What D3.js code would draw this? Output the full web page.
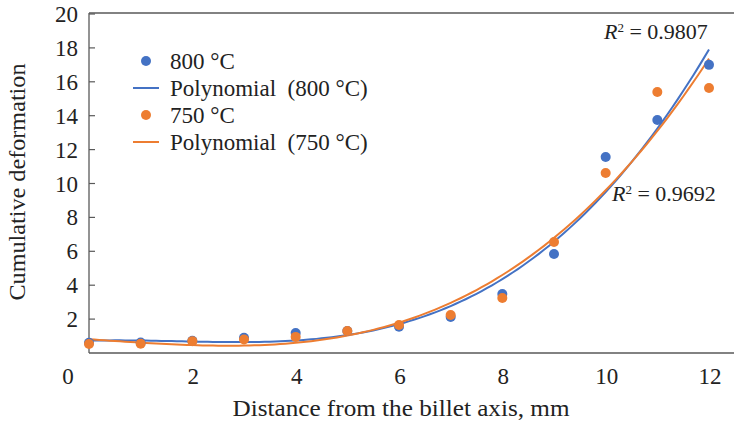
<!DOCTYPE html>
<html>
<head>
<meta charset="utf-8">
<script src="https://cdn.jsdelivr.net/npm/d3@7"></script>
<style>
  body { margin: 0; background: white; }
</style>
</head>
<body>
<div id="chart"></div>
<script>
let W = 734
let H = 421

// data
let distance = [0, 1, 2, 3, 4, 5, 6, 7, 8, 9, 10, 11, 12]
let def800 = [0.6, 0.62, 0.72, 0.9, 1.18, 1.3, 1.55, 2.12, 3.48, 5.84, 11.56, 13.75, 17.0]
let def750 = [0.53, 0.55, 0.7, 0.8, 0.95, 1.3, 1.65, 2.24, 3.25, 6.55, 10.62, 15.4, 15.63]
let yTicks = [2, 4, 6, 8, 10, 12, 14, 16, 18, 20]
let xTicks = [2, 4, 6, 8, 10, 12]
let r2Labels = ["0.9807", "0.9692"]

let blue = "#4472C4"
let orange = "#ED7D31"
let serif = "'Liberation Serif', 'Times New Roman', Times, 'DejaVu Serif', serif"

let svg = d3.select("#chart").append("svg")
    .attr("width", W).attr("height", H)
    .attr("font-family", serif)
    .style("font-family", serif)

let x = d3.scaleLinear().domain([0, 12]).range([89, 709])
let y = d3.scaleLinear().domain([0, 20]).range([353, 14])

// cubic least squares fit (Excel polynomial trendline)
function polyFit(xs, ys, deg) {
    let n = deg + 1
    let A = d3.range(n).map(() => new Array(n + 1).fill(0))
    xs.forEach((xv, k) => {
        for (let i = 0; i < n; i++) {
            for (let j = 0; j < n; j++) A[i][j] += Math.pow(xv, i + j)
            A[i][n] += ys[k] * Math.pow(xv, i)
        }
    })
    for (let c = 0; c < n; c++) {
        let p = c
        for (let r = c + 1; r < n; r++) if (Math.abs(A[r][c]) > Math.abs(A[p][c])) p = r
        let t = A[c]; A[c] = A[p]; A[p] = t
        for (let r = 0; r < n; r++) {
            if (r === c) continue
            let f = A[r][c] / A[c][c]
            for (let j = c; j <= n; j++) A[r][j] -= f * A[c][j]
        }
    }
    return d3.range(n).map(i => A[i][n] / A[i][i])
}
function polyVal(co, xv) { return co.reduce((s, c, i) => s + c * Math.pow(xv, i), 0) }

// axes lines
svg.append("line").attr("x1", x(0)).attr("x2", x(0)).attr("y1", y(20) - 1).attr("y2", 353)
    .attr("stroke", "#595959").attr("stroke-width", 1.3)
svg.append("line").attr("x1", x(0)).attr("x2", W).attr("y1", 353).attr("y2", 353)
    .attr("stroke", "#595959").attr("stroke-width", 1.3)
svg.append("line").attr("x1", x(0)).attr("x2", W).attr("y1", y(20) - 1).attr("y2", y(20) - 1)
    .attr("stroke", "#595959").attr("stroke-width", 1.3)

// y ticks (inside)
svg.selectAll(".yt").data(yTicks).join("line")
    .attr("x1", x(0)).attr("x2", x(0) + 6)
    .attr("y1", d => y(d)).attr("y2", d => y(d))
    .attr("stroke", "#595959").attr("stroke-width", 1.2)
svg.selectAll(".yl").data(yTicks).join("text")
    .attr("x", 78).attr("y", d => y(d)).attr("dy", "0.35em")
    .attr("text-anchor", "end").attr("font-size", 23).attr("fill", "#222")
    .text(d => d)

svg.selectAll(".xl").data(xTicks).join("text")
    .attr("x", d => x(d) + 1).attr("y", 376).attr("dy", "0.35em")
    .attr("text-anchor", "middle").attr("font-size", 23).attr("fill", "#222")
    .text(d => d)
// origin label sits left of the axis
svg.append("text").attr("x", x(0) - 21).attr("y", 376).attr("dy", "0.35em")
    .attr("text-anchor", "middle").attr("font-size", 23).attr("fill", "#222").text(0)

// axis titles
svg.append("text").attr("transform", "translate(25,182) rotate(-90)")
    .attr("text-anchor", "middle").attr("font-size", 24).attr("fill", "#222")
    .attr("textLength", 237).attr("lengthAdjust", "spacingAndGlyphs")
    .text("Cumulative deformation")
svg.append("text").attr("x", 401).attr("y", 408).attr("dy", "0.35em")
    .attr("text-anchor", "middle").attr("font-size", 24).attr("fill", "#222")
    .attr("textLength", 337).attr("lengthAdjust", "spacingAndGlyphs")
    .text("Distance from the billet axis, mm")

// trend lines
let xs = d3.range(0, 12.001, 0.1)
let line = d3.line().x(d => x(d[0])).y(d => y(d[1]))
let co800 = polyFit(distance, def800, 3)
let co750 = polyFit(distance, def750, 3)
svg.append("path").attr("d", line(xs.map(v => [v, polyVal(co800, v)])))
    .attr("fill", "none").attr("stroke", blue).attr("stroke-width", 2)
svg.append("path").attr("d", line(xs.map(v => [v, polyVal(co750, v)])))
    .attr("fill", "none").attr("stroke", orange).attr("stroke-width", 2)

// points
svg.selectAll(".p800").data(distance).join("circle")
    .attr("cx", d => x(d)).attr("cy", (d, i) => y(def800[i])).attr("r", 5)
    .attr("fill", blue)
svg.selectAll(".p750").data(distance).join("circle")
    .attr("cx", d => x(d)).attr("cy", (d, i) => y(def750[i])).attr("r", 5)
    .attr("fill", orange)

// R² labels
let r2Pos = [[604, 31], [612, 193]]
r2Labels.forEach((lab, i) => {
    let t = svg.append("text").attr("x", r2Pos[i][0]).attr("y", r2Pos[i][1]).attr("dy", "0.35em")
        .attr("font-size", 22).attr("fill", "#222")
    t.append("tspan").attr("font-style", "italic").text("R")
    t.append("tspan").attr("font-size", 13).attr("dy", "-0.55em").text("2")
    t.append("tspan").attr("dy", "0.35em").text(" = " + lab)
})

// legend
let legend = [
    { type: "dot", color: blue, label: "800 °C" },
    { type: "line", color: blue, label: "Polynomial  (800 °C)" },
    { type: "dot", color: orange, label: "750 °C" },
    { type: "line", color: orange, label: "Polynomial  (750 °C)" }
]
let lg = svg.append("g").attr("transform", "translate(133,61)")
legend.forEach((d, i) => {
    let g = lg.append("g").attr("transform", `translate(0,${i * 27})`)
    if (d.type === "dot") g.append("circle").attr("cx", 13).attr("cy", 0).attr("r", 5).attr("fill", d.color)
    else g.append("line").attr("x1", 0).attr("x2", 26).attr("stroke", d.color).attr("stroke-width", 2)
    g.append("text").attr("x", 37).attr("dy", "0.35em").attr("font-size", 23).attr("fill", "#222")
        .attr("xml:space", "preserve").style("white-space", "pre").text(d.label)
})
</script>
</body>
</html>
